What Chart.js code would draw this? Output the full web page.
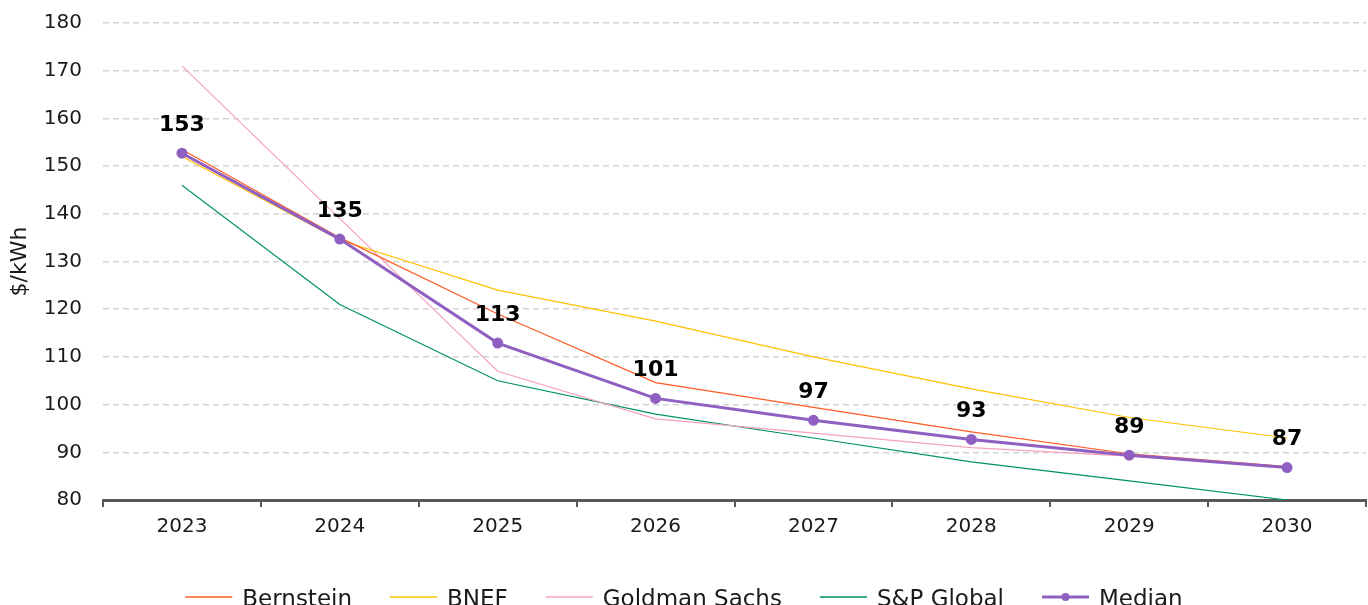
<!DOCTYPE html>
<html>
<head>
<meta charset="utf-8">
<script src="https://cdn.jsdelivr.net/npm/chart.js@4"></script>
<style>
  html, body { margin: 0; padding: 0; background: #fff; }
  #wrap { width: 1368px; height: 605px; position: relative; }
</style>
</head>
<body>
<div id="wrap"><canvas id="chart"></canvas></div>
<script>
const years = ['2023', '2024', '2025', '2026', '2027', '2028', '2029', '2030'];
const bernstein = [153.5, 135, 119, 104.6, 99.4, 94.3, 89.7, 87];
const bnef = [152, 134.5, 124, 117.5, 110, 103.3, 97.3, 93];
const goldman = [171, 139, 107, 97, 94, 91, 89.2, 87];
const spGlobal = [146, 121, 105, 98, 93, 88, 84, 80];
const median = [152.7, 134.7, 112.9, 101.3, 96.7, 92.7, 89.4, 86.8];
const yTicks = [80, 180, 10]; // min, max, step

const FONT = "'DejaVu Sans', sans-serif";

function series(label, data, color) {
    return {
        label: label,
        data: data,
        borderColor: color,
        backgroundColor: color,
        borderWidth: 1.2,
        pointRadius: 0,
        tension: 0,
        order: 1
    };
}

// Median values above each point
const medianLabels = {
    id: 'medianLabels',
    afterDatasetsDraw(chart) {
        const ctx = chart.ctx;
        const idx = chart.data.datasets.findIndex(d => d.label === 'Median');
        const meta = chart.getDatasetMeta(idx);
        ctx.save();
        ctx.font = 'bold 22px ' + FONT;
        ctx.fillStyle = '#000';
        ctx.textAlign = 'center';
        ctx.textBaseline = 'middle';
        meta.data.forEach((pt, i) => {
            ctx.fillText(Math.round(chart.data.datasets[idx].data[i]), pt.x, pt.y - 28);
        });
        ctx.restore();
    }
};

// Bottom legend with line samples
const lineLegend = {
    id: 'lineLegend',
    afterDraw(chart) {
        const ctx = chart.ctx;
        const sets = chart.data.datasets;
        const lineLen = 47, gapText = 10, gapItem = 38;
        ctx.save();
        ctx.font = '23px ' + FONT;
        const widths = sets.map(d => ctx.measureText(d.label).width);
        let total = 0;
        widths.forEach(w => total += lineLen + gapText + w);
        total += gapItem * (sets.length - 1);
        let x = (chart.width - total) / 2;
        const yLine = 597;
        sets.forEach((d, i) => {
            ctx.strokeStyle = d.borderColor;
            ctx.lineWidth = d.label === 'Median' ? 3 : 1.5;
            ctx.beginPath();
            ctx.moveTo(x, yLine);
            ctx.lineTo(x + lineLen, yLine);
            ctx.stroke();
            if (d.label === 'Median') {
                ctx.fillStyle = d.borderColor;
                ctx.beginPath();
                ctx.arc(x + lineLen / 2, yLine, 4, 0, Math.PI * 2);
                ctx.fill();
            }
            ctx.fillStyle = '#1a1a1a';
            ctx.textBaseline = 'alphabetic';
            ctx.textAlign = 'left';
            ctx.fillText(d.label, x + lineLen + gapText, 606);
            x += lineLen + gapText + widths[i] + gapItem;
        });
        ctx.restore();
    }
};

const medianSet = series('Median', median, '#8f5fc1');
medianSet.borderWidth = 3;
medianSet.pointRadius = 4;
medianSet.pointHoverRadius = 4;
medianSet.order = 0;

new Chart(document.getElementById('chart'), {
    type: 'line',
    data: {
        labels: years,
        datasets: [
            series('Bernstein', bernstein, '#ff5b24'),
            series('BNEF', bnef, '#ffc000'),
            series('Goldman Sachs', goldman, '#f7a1bf'),
            series('S&P Global', spGlobal, '#00916a'),
            medianSet
        ]
    },
    options: {
        responsive: true,
        maintainAspectRatio: false,
        animation: false,
        layout: { autoPadding: false, padding: { left: 7, right: 2, top: 23, bottom: 58 } },
        plugins: {
            legend: { display: false },
            tooltip: { enabled: false }
        },
        scales: {
            x: {
                type: 'category',
                offset: true,
                afterFit(scale) { scale.paddingLeft = 0; scale.paddingRight = 0; },
                grid: {
                    offset: true,
                    drawOnChartArea: false,
                    drawTicks: true,
                    tickLength: 7,
                    color: '#595959',
                    lineWidth: 2
                },
                border: { display: true, color: '#595959', width: 3 },
                ticks: { padding: 8, color: '#1a1a1a', font: { family: FONT, size: 20 } }
            },
            y: {
                min: yTicks[0],
                max: yTicks[1],
                afterFit(scale) {
                    scale.width = 96;
                    scale.paddingTop = 0;
                    scale.paddingBottom = 0;
                },
                grid: { color: '#d4d4d4', lineWidth: 1.5, drawTicks: false },
                border: { display: false, dash: [6, 4] },
                ticks: {
                    stepSize: yTicks[2],
                    padding: 21,
                    color: '#1a1a1a',
                    font: { family: FONT, size: 20 }
                },
                title: {
                    display: true,
                    text: '$/kWh',
                    color: '#1a1a1a',
                    font: { family: FONT, size: 22 },
                    padding: { top: 0, bottom: 10 }
                }
            }
        }
    },
    plugins: [medianLabels, lineLegend]
});
</script>
</body>
</html>
